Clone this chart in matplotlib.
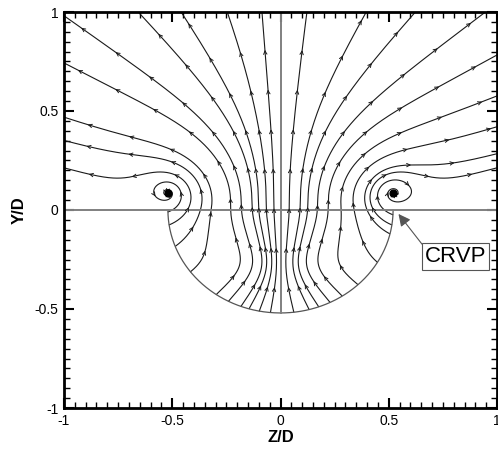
import numpy as np
import matplotlib

matplotlib.use("Agg")
import matplotlib.pyplot as plt
from matplotlib.ticker import MultipleLocator

plt.rcParams["font.family"] = ["Liberation Sans", "DejaVu Sans"]

# --- geometry (units of D) ---
jet_radius = 0.52          # semicircular jet footprint below Y/D = 0
waist_y = -0.28            # height where the core streamlines pinch together
waist_width = 0.12
pinch_strength = 1.6
core_width = 0.35          # lateral extent of the pinching core
inflow_center = -0.2       # fluid near the arc is drawn in towards (0, inflow_center)
inflow_strength = 3.0
fan_y = 0.05               # above the wall the lines fan out from (0, fan_y)
fan_width = 0.25
fan_strength = 1.1
lift_boost = 1.0           # extra upward push between the two vortices
lift_width = 0.12
vortex_z = [-0.52, 0.52]   # CRVP centres
vortex_y = [0.085, 0.085]
vortex_sense = [1, -1]     # +1 = counter-clockwise
vortex_strength = 1.9
vortex_core = 0.03
vortex_sink = 0.06

# Z/D where each drawn streamline crosses Y/D = 0
seed_z = [-0.50, -0.43, -0.37, -0.32, -0.23, -0.18, -0.13, -0.10, -0.065, -0.03,
          0.04, 0.09, 0.125, 0.17, 0.22, 0.28, 0.34, 0.40, 0.43, 0.48]

xticks = [-1, -0.5, 0, 0.5, 1]
xtick_labels = ["-1", "-0.5", "0", "0.5", "1"]
yticks = [-1, -0.5, 0, 0.5, 1]
ytick_labels = ["-1", "-0.5", "0", "0.5", "1"]

LINE_C = "#1a1a1a"


# --- in-plane velocity model ---
def velocity(z, y):
    low = 0.5 * (1 - np.tanh(y / 0.05))       # 1 inside the jet pipe, 0 above the wall
    dy = y - waist_y
    pinch = np.exp(-(z / core_width) ** 2)
    u = pinch_strength * z * dy / (dy ** 2 + waist_width ** 2) * pinch * low
    dyf = y - fan_y
    u += fan_strength * z * dyf / (dyf ** 2 + fan_width ** 2) * (1 - low)
    v = 1.0 + lift_boost * np.exp(-(z / lift_width) ** 2) * (1 - low)
    rr = np.hypot(z, y) / jet_radius
    u += -inflow_strength * z * rr ** 2 * low
    v += -inflow_strength * (y - inflow_center) * rr ** 2 * low
    for zc, yc, s in zip(vortex_z, vortex_y, vortex_sense):
        dz, dyv = z - zc, y - yc
        r2 = dz ** 2 + dyv ** 2 + vortex_core ** 2
        u += s * vortex_strength / (2 * np.pi) * (-dyv) / r2 - vortex_sink * dz / r2
        v += s * vortex_strength / (2 * np.pi) * dz / r2 - vortex_sink * dyv / r2
    return u, v


def inside(z, y):
    if abs(z) > 1 or y > 1:
        return False
    return y >= 0 or z * z + y * y <= jet_radius ** 2


def trace(z, y, sign, ds=0.003, smax=4.0):
    pts = [(z, y)]
    s = 0.0
    while s < smax:
        def d(p):
            u, v = velocity(*p)
            n = np.hypot(u, v) + 1e-12
            return np.array([u, v]) / n * sign
        p = np.array(pts[-1])
        k1 = d(p)
        k2 = d(p + 0.5 * ds * k1)
        k3 = d(p + 0.5 * ds * k2)
        k4 = d(p + ds * k3)
        q = p + ds / 6 * (k1 + 2 * k2 + 2 * k3 + k4)
        if not inside(*q):
            break
        pts.append(tuple(q))
        s += ds
    return np.array(pts)


def draw_streamline(ax, z0, y0, spacing=0.2):
    back = trace(z0, y0, -1)[::-1]
    fwd = trace(z0, y0, 1)
    line = np.vstack([back, fwd[1:]])
    ax.plot(line[:, 0], line[:, 1], color=LINE_C, lw=0.8)
    seg = np.hypot(*np.diff(line, axis=0).T)
    arc = np.concatenate([[0], np.cumsum(seg)])
    for s in np.arange(spacing * 0.6, min(arc[-1] - 0.03, 2.5), spacing):
        i = np.searchsorted(arc, s)
        if i + 2 >= len(line):
            break
        ax.annotate("", xy=line[i + 2], xytext=line[i - 1],
                    arrowprops=dict(arrowstyle="->", color=LINE_C, lw=0.7,
                                    mutation_scale=6, shrinkA=0, shrinkB=0))


fig = plt.figure(figsize=(4.98, 4.5), dpi=100)
ax = fig.add_axes([64 / 498, 1 - 408 / 450, 433 / 498, 396 / 450])

for z0 in seed_z:
    draw_streamline(ax, z0, 0.0)
ax.scatter(vortex_z, vortex_y, s=24, color="black", zorder=3)

# wall, jet edge and symmetry line
th = np.linspace(np.pi, 2 * np.pi, 200)
ax.plot(jet_radius * np.cos(th), jet_radius * np.sin(th), color="#555555", lw=0.9)
ax.axhline(0, color="#808080", lw=1.4)
ax.axvline(0, ymin=(1 - jet_radius) / 2, ymax=1, color="#808080", lw=1.4)

ax.annotate("CRVP", xy=(vortex_z[1] + 0.025, -0.02), xytext=(0.81, -0.235),
            ha="center", va="center", fontsize=16,
            bbox=dict(boxstyle="square,pad=0.12", fc="white", ec="#555555", lw=0.8),
            arrowprops=dict(arrowstyle="-|>", color="#555555", lw=0.8, relpos=(0, 0.9),
                            mutation_scale=18, shrinkA=0, shrinkB=0))

ax.set_xlim(-1, 1)
ax.set_ylim(-1, 1)
ax.set_xticks(xticks)
ax.set_xticklabels(xtick_labels)
ax.set_yticks(yticks)
ax.set_yticklabels(ytick_labels)
ax.xaxis.set_minor_locator(MultipleLocator(0.05))
ax.yaxis.set_minor_locator(MultipleLocator(0.05))
ax.tick_params(which="both", direction="in", top=True, right=True, labelsize=10)
ax.tick_params(which="major", length=7, width=1.5, pad=4)
ax.tick_params(which="minor", length=4, width=1)
for sp in ax.spines.values():
    sp.set_linewidth(2)
ax.set_xlabel("Z/D", fontsize=12, weight="bold", labelpad=2)
ax.set_ylabel("Y/D", fontsize=12, weight="bold", labelpad=6)

fig.savefig("out.png", dpi=100)
